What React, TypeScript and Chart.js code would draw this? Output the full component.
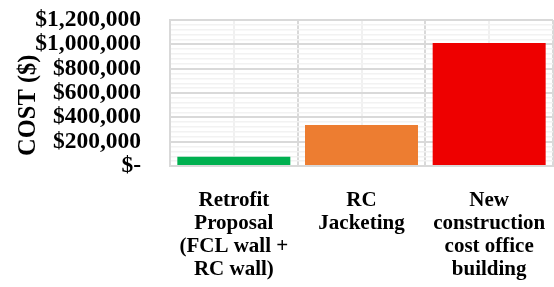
import React, { useEffect, useRef } from "react";
import { Chart, registerables } from "chart.js";

Chart.register(...registerables);

const categories: string[][] = [
  ["Retrofit", "Proposal", "(FCL wall +", "RC wall)"],
  ["RC", "Jacketing"],
  ["New", "construction", "cost office", "building"],
];
const costs: number[] = [76000, 337000, 1011000];
const barColors: string[] = ["#00b050", "#ed7d31", "#ee0000"];
const yMax = 1200000;
const yMajorStep = 200000;
const yMinorStep = 40000;

const fmt = (v: number) =>
  v === 0 ? "$-" : "$" + v.toLocaleString("en-US");

export default function App() {
  const ref = useRef<HTMLCanvasElement | null>(null);
  useEffect(() => {
    document.body.style.margin = "0";
    const ctx = ref.current!;
    const font = { family: "'Liberation Serif', 'Times New Roman', serif", weight: "bold" as const };
    const chart = new Chart(ctx, {
      type: "bar",
      data: {
        labels: categories,
        datasets: [
          {
            data: costs,
            backgroundColor: barColors,
            categoryPercentage: 1,
            barPercentage: 0.885,
          },
        ],
      },
      options: {
        animation: false,
        responsive: false,
        layout: { padding: { top: 0, right: 1, left: 16, bottom: 5 } },
        plugins: { legend: { display: false }, tooltip: { enabled: false } },
        scales: {
          x: {
            type: "category",
            offset: true,
            afterFit: (s: any) => {
              s.paddingLeft = 0;
              s.paddingRight = 0;
              s.paddingTop = 0;
              s.paddingBottom = 0;
              s.height = 116;
            },
            grid: {
              offset: true,
              color: "#d9d9d9",
              lineWidth: 2,
              drawTicks: false,
            },
            border: { display: true, color: "#d9d9d9", width: 2 },
            ticks: {
              color: "#000",
              font: { ...font, size: 21, lineHeight: 1.1 },
              padding: 23,
              maxRotation: 0,
              autoSkip: false,
            },
          },
          x2: {
            type: "category",
            position: "top",
            offset: true,
            display: true,
            afterFit: (s: any) => {
              s.paddingLeft = 0;
              s.paddingRight = 0;
              s.paddingTop = 0;
              s.paddingBottom = 0;
              s.height = 0;
            },
            grid: {
              offset: false,
              color: "#f0f0f0",
              lineWidth: 2,
              drawTicks: false,
            },
            border: { display: false },
            ticks: { display: false },
          },
          y: {
            min: 0,
            max: yMax,
            afterFit: (s: any) => {
              s.paddingTop = 20;
              s.paddingBottom = 0;
              s.paddingLeft = 0;
              s.paddingRight = 0;
              s.width = 154;
            },
            grid: {
              drawTicks: false,
              color: (c: any) =>
                c.tick && c.tick.value % yMajorStep === 0 ? "#d9d9d9" : "#f2f2f2",
              lineWidth: (c: any) =>
                c.tick && c.tick.value % yMajorStep === 0 ? 2 : 1.5,
            },
            border: { display: true, color: "#d9d9d9", width: 2 },
            ticks: {
              stepSize: yMinorStep,
              autoSkip: false,
              padding: 29,
              color: "#000",
              font: { ...font, size: 23.5, lineHeight: 1 },
              callback: (v: any) =>
                Number(v) % yMajorStep === 0 ? fmt(Number(v)) : "",
            },
            title: {
              display: true,
              text: "COST ($)    ",
              color: "#000",
              font: { ...font, size: 24.5, lineHeight: 1 },
              padding: { top: 0, bottom: -5 },
            },
          },
        },
      },
    });
    return () => chart.destroy();
  }, []);
  return (
    <div style={{ width: 554, height: 287 }}>
      <canvas ref={ref} width={554} height={287} />
    </div>
  );
}
